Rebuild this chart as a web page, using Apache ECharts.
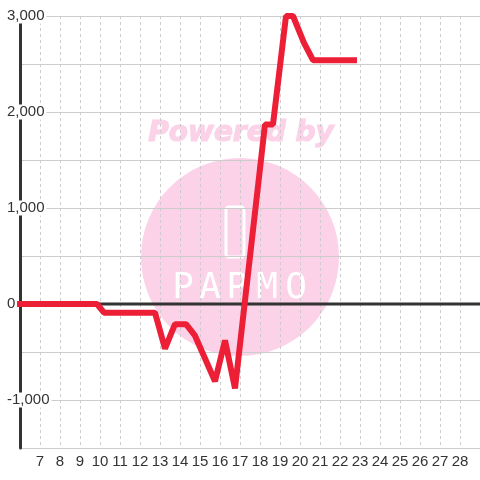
<!DOCTYPE html>
<html><head><meta charset="utf-8">
<script src="https://cdn.jsdelivr.net/npm/echarts@6/dist/echarts.min.js"></script>
<style>html,body{margin:0;padding:0;background:#fff}#c{width:480px;height:480px}</style>
</head><body><div id="c"></div>
<script>
const times = [6, 9.85, 10.2, 12.75, 13.25, 13.75, 14.3, 14.75, 15.75, 16.25, 16.75, 18.25, 18.65, 19.3, 19.65, 20.2, 20.65, 22.7];
const values = [0, 0, -90, -90, -465, -210, -210, -330, -805, -380, -880, 1870, 1870, 3000, 3000, 2720, 2540, 2540];
const zeroLineX = [6, 29];
const zeroLineY = [0, 0];
const yLabelValues = [-1000, 0, 1000, 2000, 3000];
const logoLetters = ['P', 'A', 'P', 'M', 'O'];

const wmColor = '#fbd2e8';
const letterX = [183, 210, 237, 267, 296];
const graphics = [
  {type: 'circle', z: -10, shape: {cx: 240, cy: 257, r: 99}, style: {fill: wmColor}},
  {type: 'text', z: -10, x: 241, y: 134, style: {text: 'Powered by', fill: wmColor, stroke: wmColor, lineWidth: 1.2, font: 'italic bold 28px "DejaVu Sans"', align: 'center', verticalAlign: 'middle'}},
  {type: 'rect', z: -9, shape: {x: 226, y: 207, width: 18, height: 50, r: 3}, style: {fill: 'none', stroke: '#fff', lineWidth: 3}}
];
logoLetters.forEach((ch, i) => graphics.push({type: 'text', z: -9, x: letterX[i], y: 289,
  style: {text: ch, fill: '#fff', font: '36px "DejaVu Sans Mono"', align: 'center', verticalAlign: 'middle'}}));

const chart = echarts.init(document.getElementById('c'), null, {renderer: 'canvas'});
chart.setOption({
  animation: false,
  backgroundColor: '#fff',
  grid: {left: 20, right: 0, top: 16, bottom: 32, containLabel: false},
  graphic: graphics,
  xAxis: {
    type: 'value', min: 6, max: 29, interval: 1,
    axisLine: {show: false}, axisTick: {show: false},
    axisLabel: {showMinLabel: false, showMaxLabel: false, fontSize: 15, color: '#333', margin: 6, fontFamily: 'Liberation Sans'},
    splitLine: {show: true, lineStyle: {color: '#ccc', type: [3, 3], width: 1}}
  },
  yAxis: {
    type: 'value', min: -1500, max: 3000, interval: 500,
    axisLine: {show: true, onZero: false, lineStyle: {color: '#333', width: 3}},
    axisTick: {show: false},
    axisLabel: {
      align: 'left', margin: 15,
      formatter: v => yLabelValues.includes(v) ? '{b|' + v.toLocaleString('en-US') + '}' : '',
      rich: {b: {backgroundColor: '#fff', padding: [0, 2, 0, 2], fontSize: 15, lineHeight: 15, color: '#333', fontFamily: 'Liberation Sans'}}
    },
    splitLine: {show: true, lineStyle: {color: '#ccc', width: 1}}
  },
  series: [
    {type: 'line', z: 2, symbol: 'none', silent: true, clip: false,
     data: zeroLineX.map((x, i) => [x, zeroLineY[i]]),
     lineStyle: {color: '#333', width: 3}},
    {type: 'line', z: 3, symbol: 'none', clip: false,
     data: times.map((t, i) => [t, values[i]]),
     lineStyle: {color: '#ed1f36', width: 6, cap: 'square', join: 'bevel'}}
  ]
});
</script></body></html>
